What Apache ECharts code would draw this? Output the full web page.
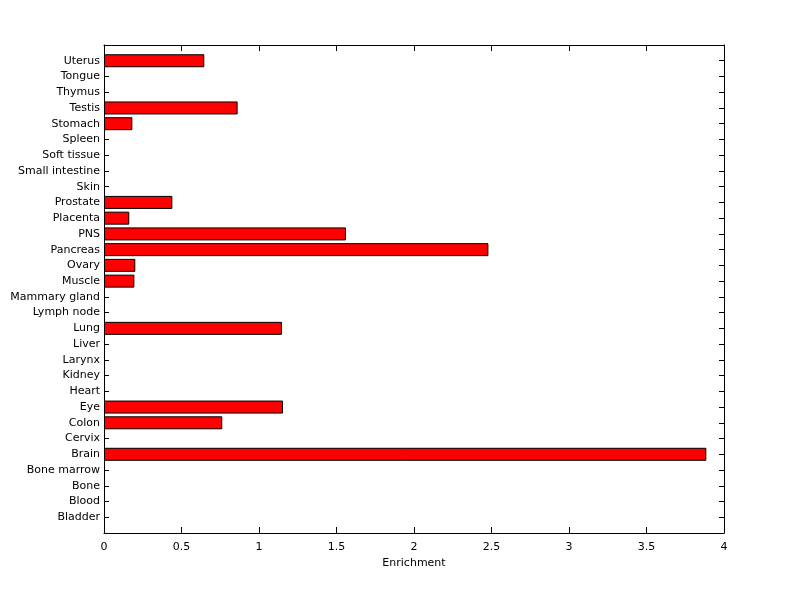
<!DOCTYPE html>
<html>
<head>
<meta charset="utf-8">
<script src="https://cdn.jsdelivr.net/npm/echarts@6/dist/echarts.min.js"></script>
<style>
html,body{margin:0;padding:0;background:#fff;}
#chart{width:800px;height:599px;}
</style>
</head>
<body>
<div id="chart"></div>
<script>
// Categories, bottom to top
const categories = ['Bladder','Blood','Bone','Bone marrow','Brain','Cervix','Colon','Eye','Heart','Kidney','Larynx','Liver','Lung','Lymph node','Mammary gland','Muscle','Ovary','Pancreas','PNS','Placenta','Prostate','Skin','Small intestine','Soft tissue','Spleen','Stomach','Testis','Thymus','Tongue','Uterus'];
const enrichment = [0,0,0,0,3.886,0,0.763,1.155,0,0,0,0,1.148,0,0,0.196,0.202,2.48,1.561,0.163,0.441,0,0,0,0,0.183,0.862,0,0,0.647];
const xTicks = [0,0.5,1,1.5,2,2.5,3,3.5,4];

const axisCats = [''].concat(categories, ['']);
// zero-length bars are not drawn
const barData = ['-'].concat(enrichment.map(v => v === 0 ? '-' : v), ['-']);

const FONT = 'DejaVu Sans';
const L = 104, R = 76, T = 45, B = 66;
const W = 800 - L - R, H = 599 - T - B;
const chart = echarts.init(document.getElementById('chart'), null, {renderer:'canvas'});
const lineStyle = {color:'#000', width:1};
chart.setOption({
  animation:false,
  backgroundColor:'#fff',
  textStyle:{fontFamily:FONT},
  grid:[
    {left:L, right:R, top:T, bottom:B, containLabel:false},
    {left:L, right:R, top:T, bottom:B, containLabel:false}
  ],
  xAxis:[{
    gridIndex:0, type:'value', position:'bottom', min:xTicks[0], max:xTicks[xTicks.length-1], interval:0.5,
    axisLine:{show:true, lineStyle}, axisTick:{show:true, inside:true, length:6, lineStyle},
    splitLine:{show:false},
    axisLabel:{color:'#000', fontSize:11, fontFamily:FONT, margin:9},
    name:'Enrichment', nameLocation:'middle', nameGap:25,
    nameTextStyle:{color:'#000', fontSize:11, fontFamily:FONT}
  },{
    gridIndex:1, type:'value', position:'bottom', offset:-H, min:xTicks[0], max:xTicks[xTicks.length-1], interval:0.5,
    axisLine:{show:true, lineStyle}, axisTick:{show:true, inside:false, length:6, lineStyle},
    splitLine:{show:false}, axisLabel:{show:false}
  }],
  yAxis:[{
    gridIndex:0, type:'category', position:'left', data:axisCats, boundaryGap:false,
    axisLine:{show:true, lineStyle}, axisTick:{show:true, inside:true, length:5, lineStyle},
    splitLine:{show:false},
    axisLabel:{color:'#000', fontSize:11, fontFamily:FONT, margin:4, interval:0, padding:[2,0,0,0]}
  },{
    gridIndex:1, type:'category', position:'left', offset:-W, data:axisCats, boundaryGap:false,
    axisLine:{show:true, lineStyle}, axisTick:{show:true, inside:false, length:5, lineStyle},
    splitLine:{show:false}, axisLabel:{show:false}
  }],
  series:[{
    type:'bar', xAxisIndex:0, yAxisIndex:0, data:barData, barWidth:13,
    itemStyle:{color:'#ff0000', borderColor:'#000', borderWidth:1}
  }]
});
</script>
</body>
</html>
